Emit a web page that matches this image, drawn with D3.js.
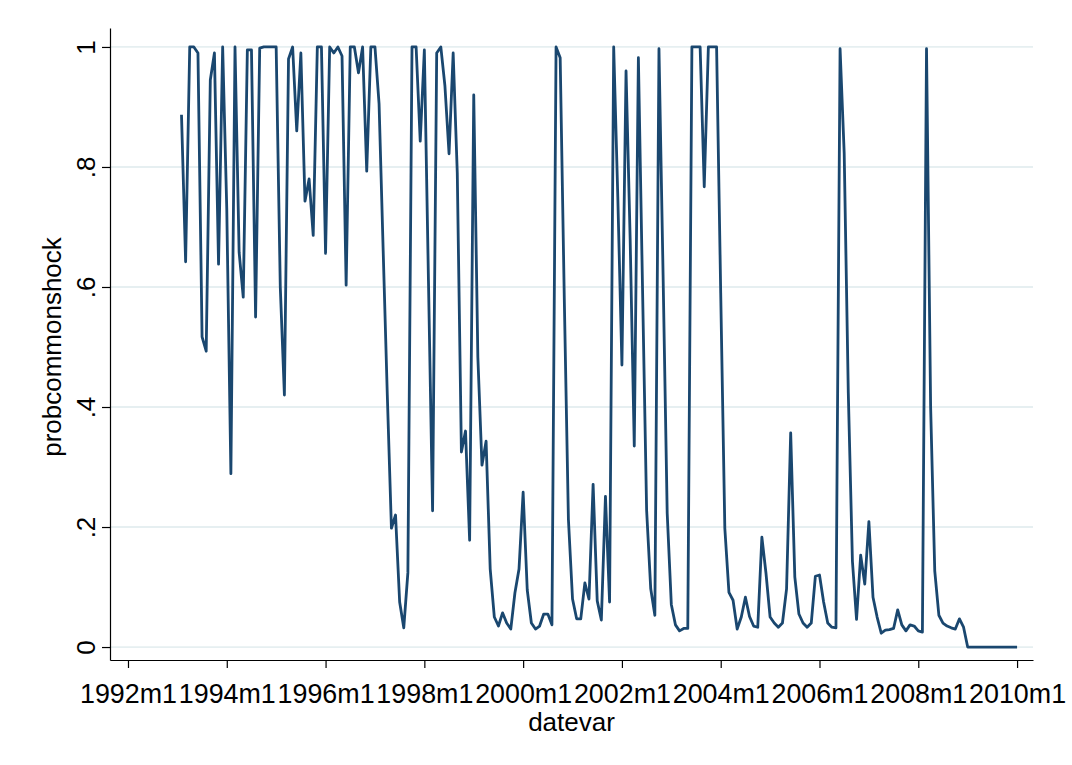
<!DOCTYPE html>
<html>
<head>
<meta charset="utf-8">
<script src="https://cdn.jsdelivr.net/npm/d3@7"></script>
<style>
  body { margin: 0; background: #fff; }
  svg text { font-family: "Liberation Sans", Arial, sans-serif; fill: #000; }
</style>
</head>
<body>
<svg id="chart"></svg>
<script>
let width = 1072;
let height = 765;

// months since 1992m1, first observation is 1993m2
let startMonth = 13;
let probcommonshock = [
    0.887, 0.642, 1.0, 1.0, 0.99, 0.517, 0.493, 0.945, 0.99, 0.638, 1.0,
    0.73, 0.289, 1.0, 0.658, 0.583, 0.995, 0.995, 0.55, 0.998, 1.0, 1.0, 1.0, 1.0,
    0.6, 0.42, 0.98, 1.0, 0.86, 0.99, 0.743, 0.78, 0.686, 1.0, 1.0, 0.656,
    1.0, 0.99, 1.0, 0.985, 0.603, 1.0, 1.0, 0.957, 1.0, 0.793, 1.0, 1.0,
    0.905, 0.66, 0.42, 0.198, 0.22, 0.075, 0.032, 0.124, 1.0, 1.0, 0.843, 0.995,
    0.61, 0.227, 0.99, 1.0, 0.935, 0.822, 0.99, 0.79, 0.325, 0.36, 0.178, 0.92,
    0.483, 0.303, 0.343, 0.13, 0.05, 0.035, 0.057, 0.04, 0.03, 0.09, 0.13, 0.258,
    0.095, 0.04, 0.03, 0.035, 0.055, 0.055, 0.037, 1.0, 0.982, 0.58, 0.213, 0.08,
    0.047, 0.047, 0.107, 0.08, 0.271, 0.077, 0.045, 0.251, 0.075, 1.0, 0.75, 0.47,
    0.96, 0.68, 0.335, 0.982, 0.6, 0.228, 0.097, 0.053, 0.997, 0.62, 0.223, 0.071,
    0.037, 0.027, 0.031, 0.031, 1.0, 1.0, 1.0, 0.767, 1.0, 1.0, 1.0, 0.59,
    0.198, 0.091, 0.078, 0.03, 0.05, 0.083, 0.051, 0.035, 0.033, 0.183, 0.123, 0.05,
    0.04, 0.033, 0.04, 0.097, 0.357, 0.117, 0.055, 0.04, 0.033, 0.04, 0.118, 0.12,
    0.075, 0.04, 0.033, 0.032, 0.997, 0.823, 0.423, 0.143, 0.046, 0.153, 0.105, 0.209,
    0.083, 0.05, 0.023, 0.028, 0.029, 0.031, 0.062, 0.037, 0.027, 0.037, 0.035, 0.027,
    0.025, 0.997, 0.4, 0.127, 0.053, 0.04, 0.035, 0.032, 0.03, 0.047, 0.033, 0,
    0, 0, 0, 0, 0, 0, 0, 0, 0, 0, 0, 0
];
let xTicks = [0, 24, 48, 72, 96, 120, 144, 168, 192, 216];
let xTickLabels = ["1992m1", "1994m1", "1996m1", "1998m1", "2000m1", "2002m1", "2004m1", "2006m1", "2008m1", "2010m1"];
let yTicks = [0, 0.2, 0.4, 0.6, 0.8, 1];
let yTickLabels = ["0", ".2", ".4", ".6", ".8", "1"];

let data = probcommonshock.map((v, i) => ({month: startMonth + i, value: v}));

let svg = d3.select("#chart")
    .attr("width", width)
    .attr("height", height);

// plot region edges, with Stata's inner margin in the domain
let x = d3.scaleLinear()
    .domain([-4.37, 219.87])
    .range([110, 1033]);
let y = d3.scaleLinear()
    .domain([-0.0216, 1.0316])
    .range([660, 28]);

// gridlines
svg.append("g")
    .selectAll("line")
    .data(yTicks)
    .enter().append("line")
    .attr("x1", 110)
    .attr("x2", 1033)
    .attr("y1", d => y(d))
    .attr("y2", d => y(d))
    .style("stroke", "#e6eff1")
    .style("stroke-width", 1.8);

let xAxis = svg.append("g")
    .attr("transform", `translate(0, 660)`)
    .call(d3.axisBottom(x)
        .tickValues(xTicks)
        .tickFormat((d, i) => xTickLabels[i])
        .tickSize(8)
        .tickSizeOuter(0));
xAxis.selectAll("text")
    .attr("y", 43)
    .attr("dy", 0)
    .attr("textLength", 97)
    .attr("lengthAdjust", "spacingAndGlyphs")
    .style("font-size", "27px");

let yAxis = svg.append("g")
    .attr("transform", `translate(110, 0)`)
    .call(d3.axisLeft(y)
        .tickValues(yTicks)
        .tickFormat((d, i) => yTickLabels[i])
        .tickSize(8)
        .tickSizeOuter(0));
yAxis.selectAll("text")
    .attr("transform", "rotate(-90)")
    .attr("x", 0)
    .attr("y", -15)
    .attr("dy", 0)
    .style("text-anchor", "middle")
    .style("font-size", "26px");

svg.selectAll(".domain, .tick line")
    .style("stroke", "#000")
    .style("stroke-width", 1.2);

svg.append("path")
    .datum(data)
    .attr("d", d3.line()
        .x(d => x(d.month))
        .y(d => y(d.value)))
    .style("fill", "none")
    .style("stroke", "#1a476f")
    .style("stroke-width", 2.8)
    .style("stroke-linejoin", "round");

svg.append("text")
    .attr("x", 571.5)
    .attr("y", 731)
    .style("text-anchor", "middle")
    .style("font-size", "26px")
    .text("datevar");

svg.append("text")
    .attr("transform", "translate(61, 347) rotate(-90)")
    .style("text-anchor", "middle")
    .style("font-size", "26px")
    .text("probcommonshock");
</script>
</body>
</html>
